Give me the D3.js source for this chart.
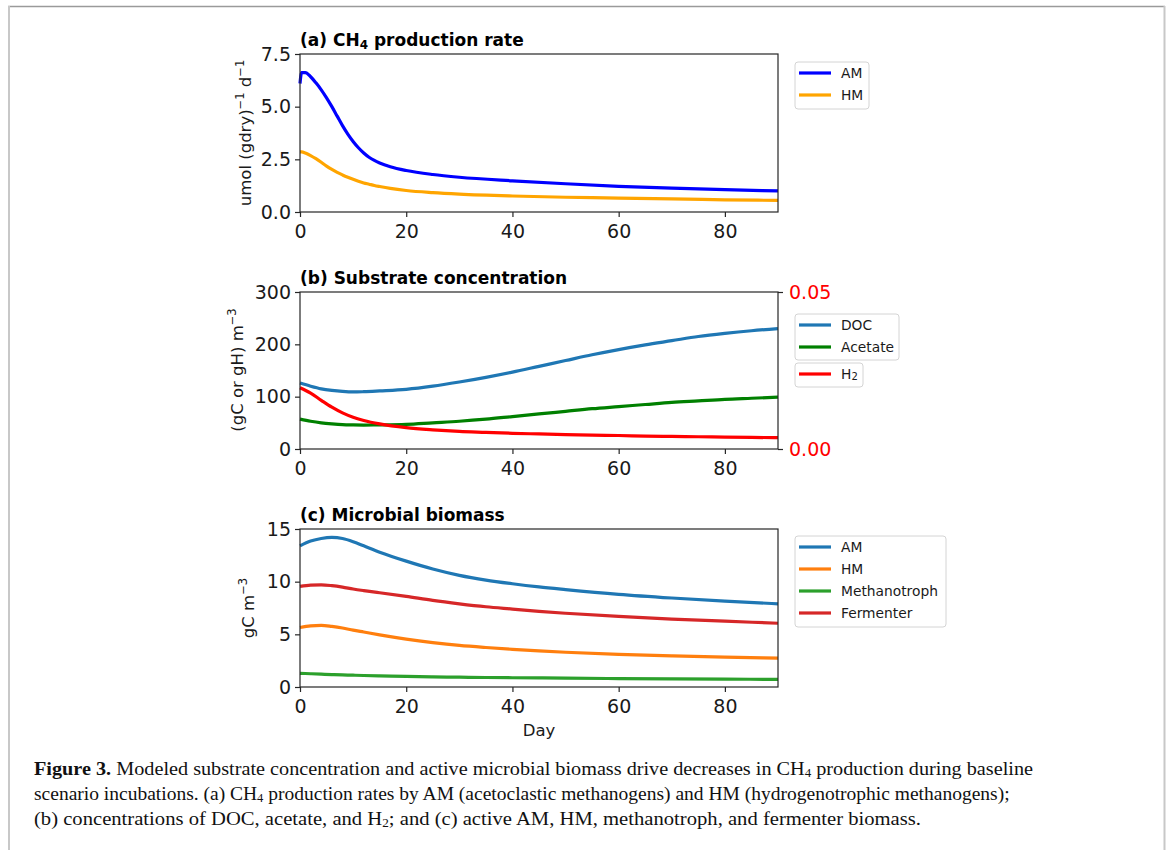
<!DOCTYPE html>
<html>
<head>
<meta charset="utf-8">
<script src="https://cdn.jsdelivr.net/npm/d3@7"></script>
<style>
  body { margin: 0; background: #fff; }
  svg { display: block; }
</style>
</head>
<body>
<script>
// ---- data ----
// (a) CH4 production rate, umol (gdry)^-1 d^-1
const dayA   = [0, 0.3, 1, 2, 3, 4, 5, 6, 7, 8, 9, 10, 11, 12, 13, 14, 15, 17, 20, 25, 30, 40, 50, 60, 70, 80, 90];
const amRate = [6.1, 6.62, 6.62, 6.42, 6.13, 5.8, 5.42, 5.0, 4.55, 4.1, 3.7, 3.35, 3.05, 2.8, 2.6, 2.45, 2.33, 2.15, 1.97, 1.78, 1.65, 1.48, 1.34, 1.22, 1.13, 1.06, 1.0];
const hmRate = [2.85, 2.85, 2.8, 2.68, 2.53, 2.36, 2.18, 2.02, 1.88, 1.76, 1.65, 1.55, 1.46, 1.38, 1.32, 1.26, 1.21, 1.12, 1.02, 0.92, 0.85, 0.76, 0.7, 0.66, 0.62, 0.58, 0.55];

// (b) substrate concentration
const dayB    = [0, 2, 4, 6, 8, 10, 12, 15, 20, 25, 30, 35, 40, 45, 50, 55, 60, 65, 70, 75, 80, 85, 90];
const doc     = [126, 120, 115, 112, 110, 109, 109.5, 111, 114, 120, 128, 137, 147, 158, 169, 180, 190, 199, 207, 215, 221, 226, 230];
const acetate = [57, 53, 50, 48, 46.5, 46, 45.8, 46, 47, 50, 53, 57, 62, 67, 72, 77, 81, 85, 89, 92, 95, 97, 99];
const h2      = [0.0195, 0.0178, 0.0155, 0.0133, 0.0115, 0.0101, 0.0091, 0.0080, 0.0068, 0.0061, 0.0056, 0.0053, 0.0050, 0.0048, 0.0046, 0.0044, 0.0043, 0.0041, 0.0040, 0.0039, 0.0038, 0.0037, 0.0036];

// (c) microbial biomass, gC m^-3
const dayC  = [0, 2, 4, 6, 8, 10, 12, 15, 20, 25, 30, 35, 40, 45, 50, 60, 70, 80, 90];
const amBio = [13.4, 13.85, 14.1, 14.2, 14.1, 13.8, 13.4, 12.8, 11.95, 11.2, 10.6, 10.15, 9.8, 9.5, 9.25, 8.8, 8.45, 8.15, 7.9];
const hmBio = [5.65, 5.8, 5.85, 5.75, 5.6, 5.4, 5.22, 4.95, 4.55, 4.22, 3.95, 3.75, 3.58, 3.43, 3.3, 3.1, 2.95, 2.83, 2.75];
const mtBio = [1.3, 1.26, 1.22, 1.18, 1.15, 1.12, 1.09, 1.06, 1.0, 0.96, 0.93, 0.9, 0.88, 0.86, 0.84, 0.8, 0.77, 0.75, 0.72];
const feBio = [9.55, 9.68, 9.7, 9.62, 9.48, 9.3, 9.15, 8.95, 8.6, 8.22, 7.9, 7.62, 7.4, 7.18, 7.0, 6.7, 6.45, 6.25, 6.05];

const xTicks  = [0, 20, 40, 60, 80];
const yTicksA = [0, 2.5, 5, 7.5];
const yTicksB = [0, 100, 200, 300];
const yTicksB2 = [0, 0.05];
const yTicksC = [0, 5, 10, 15];

// ---- layout ----
const W = 1168, H = 850;
const left = 300, right = 778;
const font = '"DejaVu Sans", sans-serif';
const axisCol = '#262626';

const svg = d3.select('body').append('svg').attr('width', W).attr('height', H)
  .attr('font-family', font);

// page frame
svg.append('line').attr('x1', 8).attr('x2', 1165).attr('y1', 6.5).attr('y2', 6.5).attr('stroke', '#9a9a9a').attr('stroke-width', 1.5);
svg.append('line').attr('x1', 9).attr('x2', 9).attr('y1', 6).attr('y2', H).attr('stroke', '#c8c8c8').attr('stroke-width', 2);
svg.append('line').attr('x1', 1164.5).attr('x2', 1164.5).attr('y1', 6).attr('y2', H).attr('stroke', '#c8c8c8').attr('stroke-width', 2);

const x = d3.scaleLinear().domain([0, 90]).range([left, right]);

function panel(top, bottom, yDomain, yTicks, yFmt) {
  const y = d3.scaleLinear().domain(yDomain).range([bottom, top]);
  const g = svg.append('g');
  // x axis
  const xa = g.append('g').attr('transform', `translate(0,${bottom})`)
    .call(d3.axisBottom(x).tickValues(xTicks).tickSize(5).tickPadding(8).tickFormat(d3.format('d')));
  // y axis
  const ya = g.append('g').attr('transform', `translate(${left},0)`)
    .call(d3.axisLeft(y).tickValues(yTicks).tickSize(5).tickPadding(4).tickFormat(yFmt));
  [xa, ya].forEach(a => {
    a.select('.domain').remove();
    a.selectAll('.tick line').attr('stroke', axisCol).attr('stroke-width', 1.2);
    a.selectAll('.tick text').attr('font-size', 19).attr('fill', '#1a1a1a').attr('font-family', font);
  });
  return { g, y, top, bottom };
}

function spines(p) {
  p.g.append('rect').attr('x', left).attr('y', p.top).attr('width', right - left).attr('height', p.bottom - p.top)
    .attr('fill', 'none').attr('stroke', axisCol).attr('stroke-width', 1.2);
}

function series(p, yScale, days, vals, color) {
  const line = d3.line().x((d, i) => x(days[i])).y(d => yScale(d)).curve(d3.curveMonotoneX);
  p.g.append('path').datum(vals).attr('d', line).attr('fill', 'none')
    .attr('stroke', color).attr('stroke-width', 3.2).attr('stroke-linejoin', 'round');
}

function title(p, parts) {
  const t = p.g.append('text').attr('x', left).attr('y', p.top - 8)
    .attr('font-size', 17).attr('font-weight', 'bold').attr('fill', '#000');
  parts.forEach(s => {
    const ts = t.append('tspan').text(s.t);
    if (s.sub) ts.attr('font-size', 12).attr('baseline-shift', '-22%');
  });
}

function yLabel(cx, cy, parts) {
  const t = svg.append('text').attr('transform', `translate(${cx},${cy}) rotate(-90)`)
    .attr('text-anchor', 'middle').attr('dominant-baseline', 'central')
    .attr('font-size', 16.5).attr('fill', '#1a1a1a');
  parts.forEach(s => {
    const ts = t.append('tspan').text(s.t);
    if (s.sup) ts.attr('font-size', 11.5).attr('baseline-shift', '45%');
  });
}

function legend(x0, y0, w, h, items) {
  const g = svg.append('g');
  g.append('rect').attr('x', x0).attr('y', y0).attr('width', w).attr('height', h).attr('rx', 3)
    .attr('fill', '#fff').attr('stroke', '#d4d4d4').attr('stroke-width', 1);
  items.forEach((it, i) => {
    const cy = y0 + 11 + i * 22;
    g.append('line').attr('x1', x0 + 4).attr('x2', x0 + 36).attr('y1', cy).attr('y2', cy)
      .attr('stroke', it.c).attr('stroke-width', 3.2);
    const t = g.append('text').attr('x', x0 + 46).attr('y', cy).attr('dominant-baseline', 'central')
      .attr('font-size', 13.8).attr('fill', '#1a1a1a');
    t.append('tspan').text(it.t);
    if (it.sub) t.append('tspan').text(it.sub).attr('font-size', 10).attr('baseline-shift', '-25%');
  });
}

// ---- panel (a) ----
const pa = panel(54, 212, [0, 7.5], yTicksA, d3.format('.1f'));
series(pa, pa.y, dayA, amRate, '#0000ff');
series(pa, pa.y, dayA, hmRate, '#ffa500');
spines(pa);
title(pa, [{ t: '(a) CH' }, { t: '4', sub: true }, { t: ' production rate' }]);
yLabel(245, 133, [{ t: 'umol (gdry)' }, { t: '\u22121', sup: true }, { t: ' d' }, { t: '\u22121', sup: true }]);
legend(795, 62, 74, 47, [{ t: 'AM', c: '#0000ff' }, { t: 'HM', c: '#ffa500' }]);

// ---- panel (b) ----
const pb = panel(292, 449, [0, 300], yTicksB, d3.format('d'));
const yB2 = d3.scaleLinear().domain([0, 0.05]).range([449, 292]);
const ra = pb.g.append('g').attr('transform', `translate(${right},0)`)
  .call(d3.axisRight(yB2).tickValues(yTicksB2).tickSize(5).tickPadding(6).tickFormat(d3.format('.2f')));
ra.select('.domain').remove();
ra.selectAll('.tick line').attr('stroke', axisCol).attr('stroke-width', 1.2);
ra.selectAll('.tick text').attr('font-size', 19).attr('fill', '#ff0000').attr('font-family', font);
series(pb, pb.y, dayB, doc, '#1f77b4');
series(pb, pb.y, dayB, acetate, '#008000');
series(pb, yB2, dayB, h2, '#ff0000');
spines(pb);
title(pb, [{ t: '(b) Substrate concentration' }]);
yLabel(237, 370, [{ t: '(gC or gH) m' }, { t: '\u22123', sup: true }]);
legend(795, 314, 104, 46, [{ t: 'DOC', c: '#1f77b4' }, { t: 'Acetate', c: '#008000' }]);
legend(795, 363, 68, 24, [{ t: 'H', sub: '2', c: '#ff0000' }]);

// ---- panel (c) ----
const pc = panel(529, 687, [0, 15], yTicksC, d3.format('d'));
series(pc, pc.y, dayC, amBio, '#1f77b4');
series(pc, pc.y, dayC, hmBio, '#ff7f0e');
series(pc, pc.y, dayC, mtBio, '#2ca02c');
series(pc, pc.y, dayC, feBio, '#d62728');
spines(pc);
title(pc, [{ t: '(c) Microbial biomass' }]);
yLabel(248, 608, [{ t: 'gC m' }, { t: '\u22123', sup: true }]);
svg.append('text').attr('x', (left + right) / 2).attr('y', 736).attr('text-anchor', 'middle')
  .attr('font-size', 16.5).attr('fill', '#1a1a1a').text('Day');
legend(795, 536, 151, 91, [
  { t: 'AM', c: '#1f77b4' }, { t: 'HM', c: '#ff7f0e' },
  { t: 'Methanotroph', c: '#2ca02c' }, { t: 'Fermenter', c: '#d62728' }
]);

// ---- caption ----
const capLines = [
  [{ t: 'Figure 3.', b: true }, { t: ' Modeled substrate concentration and active microbial biomass drive decreases in CH' }, { t: '4', sub: true }, { t: ' production during baseline' }],
  [{ t: 'scenario incubations. (a) CH' }, { t: '4', sub: true }, { t: ' production rates by AM (acetoclastic methanogens) and HM (hydrogenotrophic methanogens);' }],
  [{ t: '(b) concentrations of DOC, acetate, and H' }, { t: '2', sub: true }, { t: '; and (c) active AM, HM, methanotroph, and fermenter biomass.' }]
];
const capBase = [775, 800, 825];
const capWidth = [999, null, 887];   // stretch lines 1 and 3 to the reference width
capLines.forEach((parts, i) => {
  const t = svg.append('text').attr('x', 34).attr('y', capBase[i])
    .attr('font-family', '"Liberation Serif", "DejaVu Serif", serif').attr('font-size', 19.5).attr('fill', '#111');
  if (capWidth[i]) t.attr('textLength', capWidth[i]).attr('lengthAdjust', 'spacingAndGlyphs');
  parts.forEach(s => {
    const ts = t.append('tspan').text(s.t);
    if (s.b) ts.attr('font-weight', 'bold');
    if (s.sub) ts.attr('font-size', 12.5).attr('baseline-shift', '-14%');
  });
});
</script>
</body>
</html>
